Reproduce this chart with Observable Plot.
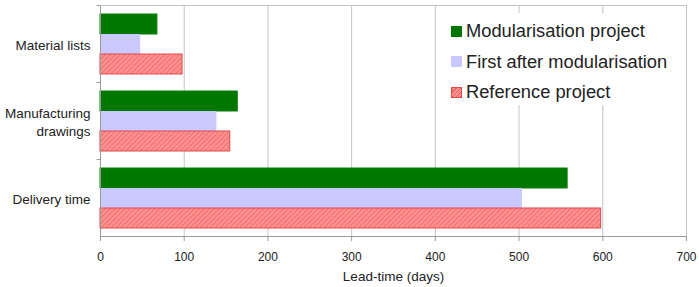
<!DOCTYPE html>
<html><head><meta charset="utf-8">
<script src="https://cdn.jsdelivr.net/npm/d3@7"></script>
<script src="https://cdn.jsdelivr.net/npm/@observablehq/plot@0.6"></script>
<style>
body{margin:0;background:#fff;font-family:"Liberation Sans",Arial,sans-serif;}
#wrap{position:relative;width:699px;height:287px;}
#legend{position:absolute;left:440px;top:13px;width:244px;height:92px;background:#fff;}
.item{position:absolute;left:11px;height:22px;display:flex;align-items:center;font-size:18.3px;color:#222;white-space:nowrap;}
.sw{width:11px;height:11px;margin-right:4px;box-sizing:border-box;}
</style></head>
<body><div id="wrap"></div>
<script>
const categories = ["Material lists", "Manufacturing\ndrawings", "Delivery time"];
const series = ["Modularisation project", "First after modularisation", "Reference project"];
const modularisation = [68, 164, 558];
const firstAfter = [48, 139, 504];
const reference = [98, 155, 598];
const xTicks = [0, 100, 200, 300, 400, 500, 600, 700];

const valuesBySeries = [modularisation, firstAfter, reference];
const table = [];
categories.forEach((c, i) => series.forEach((s, j) => table.push({category: c, series: s, value: valuesBySeries[j][i]})));

const styles = [
  {fill: "#007800", stroke: "#0a7f0a"},
  {fill: "#c9c9ff", stroke: "none"},
  {fill: "url(#hatch)", stroke: "#e04848"}
];

const tickSym = {draw(ctx) { ctx.moveTo(-4, 0); ctx.lineTo(0, 0); }};

const chart = Plot.plot({
  width: 699, height: 287,
  marginLeft: 100, marginRight: 13, marginTop: 4, marginBottom: 50,
  style: {fontFamily: "Liberation Sans, Arial, sans-serif", fontSize: "12px", color: "#222"},
  x: {domain: [0, 700]},
  y: {domain: series, paddingInner: 0, paddingOuter: 0.37, axis: null},
  fy: {domain: categories, padding: 0, axis: null},
  marks: [
    Plot.gridX(xTicks.slice(1), {stroke: "#c4c4c4", strokeOpacity: 1}),
    ...series.map((s, j) => Plot.barX(table.filter(d => d.series === s), {
      x: "value", y: "series", fy: "category",
      fill: styles[j].fill, stroke: styles[j].stroke, strokeWidth: 1
    })),
    Plot.ruleX([0], {stroke: "#999"}),
    Plot.dot([0], {frameAnchor: "top-left", symbol: tickSym, stroke: "#999", strokeWidth: 1}),
    Plot.frame({anchor: "top", facet: "super", stroke: "#c4c4c4"}),
    Plot.frame({anchor: "bottom", facet: "super", stroke: "#999"}),
    Plot.axisFy({anchor: "left", tickSize: 0, tickPadding: 10, label: null, fontSize: 13.5, lineHeight: 1.33}),
    Plot.axisX({ticks: xTicks, tickSize: 5, tickPadding: 11, stroke: "#999", fontSize: 12, label: null}),
    Plot.axisX({ticks: [], tickSize: 0, fontSize: 13.5,
      label: "Lead-time (days)", labelAnchor: "center", labelArrow: "none", labelOffset: 44})
  ]
});

d3.select(chart).insert("defs", ":first-child").html(
  '<pattern id="hatch" patternUnits="userSpaceOnUse" width="3.5" height="3.5" patternTransform="rotate(45)">' +
  '<rect width="3.5" height="3.5" fill="#ff9090"/><line x1="0" y1="0" x2="0" y2="3.5" stroke="#e86060" stroke-width="1.3"/></pattern>');

const wrap = document.getElementById("wrap");
wrap.appendChild(chart);
const legend = document.createElement("div");
legend.id = "legend";
const swatchCss = [
  "background:#007800",
  "background:#c9c9ff",
  "background:repeating-linear-gradient(-45deg,#e86060 0 1px,#ff9090 1px 3px);border:1px solid #e04848"
];
series.forEach((s, j) => {
  const it = document.createElement("div");
  it.className = "item";
  it.style.top = (7 + j * 30.5) + "px";
  const sw = document.createElement("span");
  sw.className = "sw"; sw.style.cssText = swatchCss[j];
  const t = document.createElement("span"); t.textContent = s;
  it.appendChild(sw); it.appendChild(t);
  legend.appendChild(it);
});
wrap.appendChild(legend);
</script></body></html>
